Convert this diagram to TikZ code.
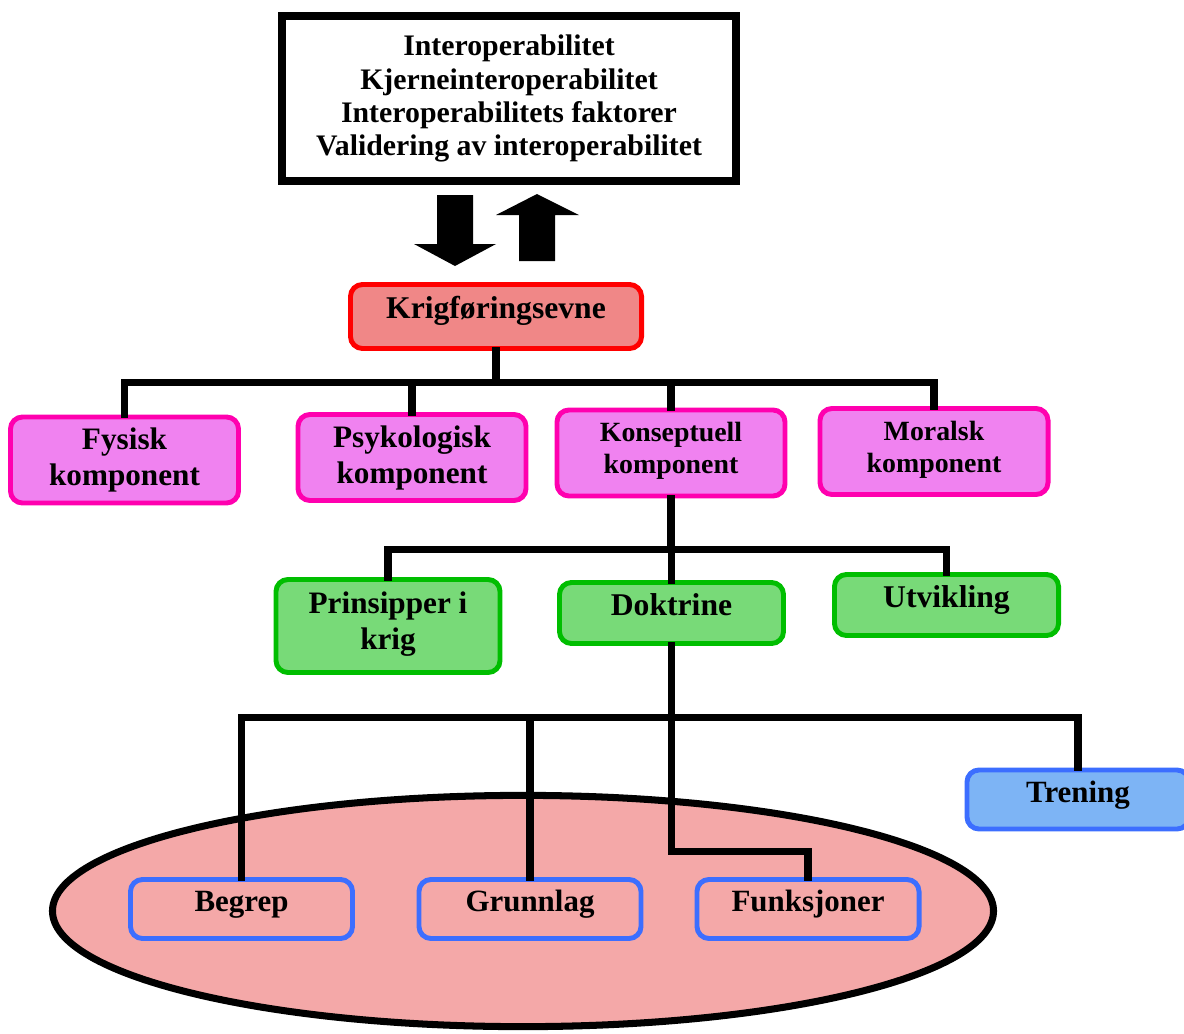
\documentclass[tikz,border=0pt]{standalone}
\usepackage{fontspec}
\setmainfont{Liberation Serif}
\usetikzlibrary{calc}
\definecolor{magb}{RGB}{255,0,175}
\definecolor{magf}{RGB}{240,130,240}
\definecolor{grnb}{RGB}{0,190,0}
\definecolor{grnf}{RGB}{120,218,120}
\definecolor{redb}{RGB}{255,0,0}
\definecolor{redf}{RGB}{240,135,135}
\definecolor{blub}{RGB}{60,110,255}
\definecolor{bluf}{RGB}{125,180,245}
\definecolor{ellf}{RGB}{244,168,168}
\tikzset{
  box/.style={rounded corners=0.3cm, line width=3.5pt, align=center, inner sep=0pt, font=\bfseries},
  magbox/.style={box, draw=magb, fill=magf, minimum width=5.7cm, minimum height=2.15cm},
  grnbox/.style={box, draw=grnb, fill=grnf, minimum width=5.6cm},
  bluebox/.style={box, draw=blub, minimum width=5.55cm, minimum height=1.475cm},
  conn/.style={line width=5pt, line join=miter, line cap=rect},
  bigarrow/.style={fill=black}
}
\begin{document}
\begin{tikzpicture}[x=0.025cm, y=-0.025cm]
\useasboundingbox (0,0) rectangle (1184,1033);
% ellipse
\draw[line width=5pt, fill=ellf] (523,911) ellipse [x radius=11.76cm, y radius=2.89cm];
% top box
\node (top) [draw, line width=5.7pt, minimum width=11.35cm, minimum height=4.125cm, align=center, inner sep=0pt,
  font=\bfseries\fontsize{21.2}{23.5}\selectfont] at (509,98.5)
  {Interoperabilitet\\Kjerneinteroperabilitet\\Interoperabilitets faktorer\\Validering av interoperabilitet};
% big arrows
\fill[bigarrow] (437,195) -- (473,195) -- (473,244) -- (496,244) -- (455,266) -- (414,244) -- (437,244) -- cycle;
\fill[bigarrow] (519,261) -- (555,261) -- (555,215) -- (579,215) -- (537,194) -- (496,215) -- (519,215) -- cycle;
% Krigforingsevne
\node (krig) [box, draw=redb, fill=redf, minimum width=7.275cm, minimum height=1.6cm, text depth=0.45cm,
  font=\bfseries\fontsize{22.5}{25}\selectfont] at (496,316.5) {Krigføringsevne};
% components
\node (fys) [magbox, font=\bfseries\fontsize{22.2}{25.6}\selectfont] at (124.5,460) {Fysisk\\komponent};
\node (psy) [magbox, font=\bfseries\fontsize{22.2}{25.6}\selectfont] at (412,457.5) {Psykologisk\\komponent};
\node (kon) [magbox, font=\bfseries\fontsize{19.8}{22.8}\selectfont, text depth=0.25cm] at (671,453) {Konseptuell\\komponent};
\node (mor) [magbox, font=\bfseries\fontsize{19.8}{22.8}\selectfont, text depth=0.25cm] at (934,451.5) {Moralsk\\komponent};
% second level
\node (pri) [grnbox, minimum height=2.325cm, font=\bfseries\fontsize{22.2}{25.6}\selectfont, text depth=0.25cm] at (388,626) {Prinsipper i\\krig};
\node (dok) [grnbox, minimum height=1.525cm, font=\bfseries\fontsize{22.5}{25}\selectfont, text depth=0.4cm] at (671.5,613) {Doktrine};
\node (utv) [grnbox, minimum height=1.525cm, font=\bfseries\fontsize{22.5}{25}\selectfont, text depth=0.4cm] at (946.5,605) {Utvikling};
% third level
\node (tre) [bluebox, fill=bluf, font=\bfseries\fontsize{22}{25}\selectfont, text depth=0.4cm] at (1078,799.5) {Trening};
% connectors
\path (krig.south) ++(0,32) coordinate (b1);
\draw[conn] (krig.south) -- (b1);
\foreach \n in {fys,psy,kon,mor} \draw[conn] (\n.north) |- (b1);
\path (kon.south) ++(0,51) coordinate (b2);
\draw[conn] (kon.south) -- (b2);
\foreach \n in {pri,dok,utv} \draw[conn] (\n.north) |- (b2);
\node (beg) [bluebox, font=\bfseries\fontsize{22}{25}\selectfont, text depth=0.4cm] at (241.5,909) {Begrep};
\node (gru) [bluebox, font=\bfseries\fontsize{22}{25}\selectfont, text depth=0.4cm] at (530,909) {Grunnlag};
\node (fun) [bluebox, font=\bfseries\fontsize{22}{25}\selectfont, text depth=0.4cm] at (808,909) {Funksjoner};
\path (dok.south) ++(0,72) coordinate (b3);
\path (dok.south) ++(0,206) coordinate (fk);
\draw[conn] (dok.south) -- (b3);
\foreach \n in {beg,gru,tre} \draw[conn] (\n.north) |- (b3);
\draw[conn] (b3) -- (fk) -| (fun.north);
\end{tikzpicture}
\end{document}
